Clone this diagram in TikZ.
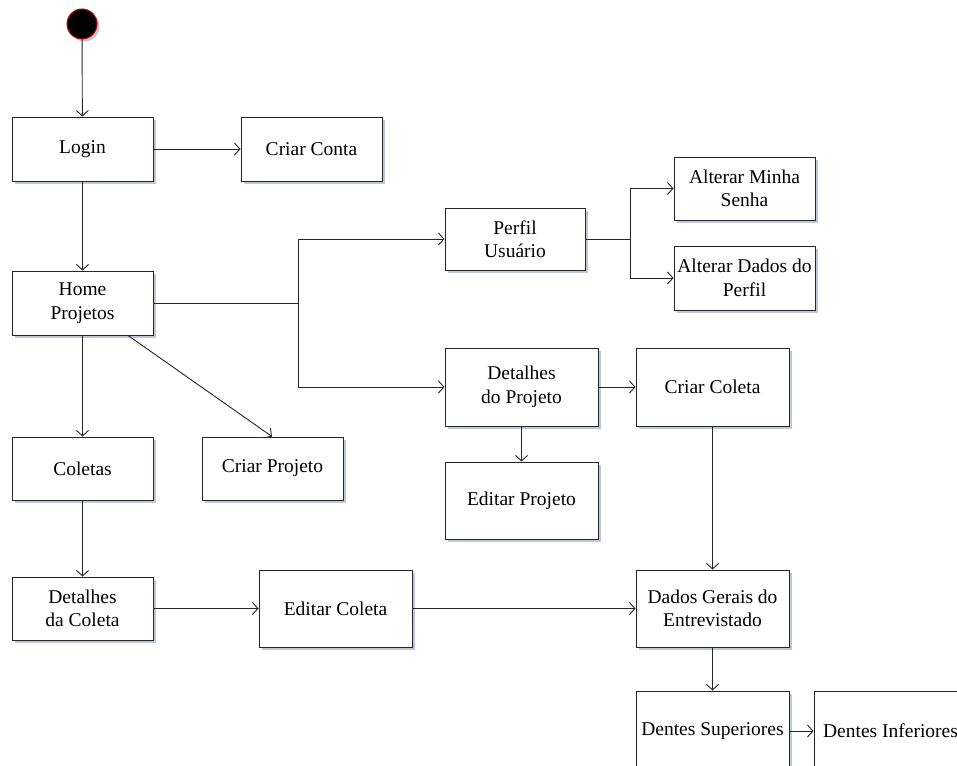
\documentclass[tikz,border=0pt]{standalone}
\usepackage{fontspec}
\setmainfont{Liberation Serif}
\usetikzlibrary{arrows.meta,shadows}
\definecolor{shadowc}{RGB}{150,160,190}
\tikzset{
  box/.style={draw=black!85, line width=0.9pt, fill=white, align=center,
    inner sep=0pt, font=\fontsize{19.5}{23.5}\selectfont,
    drop shadow={shadow xshift=2.5pt, shadow yshift=-2.5pt, fill=shadowc, opacity=0.6}},
  arr/.style={draw=black!85, line width=0.9pt, -{Straight Barb[length=5.5pt,width=12pt]}},
  ln/.style={draw=black!85, line width=0.9pt}
}
\begin{document}
\begin{tikzpicture}[x=1pt,y=-1pt]
\clip (0,0) rectangle (957,765);
\fill[white] (0,0) rectangle (957,765);
% start
\node[circle, fill=black, draw=red!75!black, line width=1pt, minimum size=30pt, inner sep=0pt,
  drop shadow={shadow xshift=2.5pt, shadow yshift=-2.5pt, fill=shadowc, opacity=0.6}] (start) at (82,24) {};
% boxes
\node[box, minimum width=141pt, minimum height=64pt] (login) at (82.5,149) {Login};
\node[box, minimum width=141pt, minimum height=64pt] (criarconta) at (311.5,149) {Criar Conta};
\node[box, minimum width=141pt, minimum height=64pt] (home) at (82.5,303) {Home\\Projetos};
\node[box, minimum width=141pt, minimum height=63pt] (coletas) at (82.5,468.5) {Coletas};
\node[box, minimum width=141pt, minimum height=63pt] (criarproj) at (272.5,468.5) {Criar Projeto};
\node[box, minimum width=141pt, minimum height=63pt] (detcoleta) at (82.5,608.5) {Detalhes\\da Coleta};
\node[box, minimum width=153pt, minimum height=77pt] (editcoleta) at (335.5,608.5) {Editar Coleta};
\node[box, minimum width=140pt, minimum height=62pt] (perfil) at (515,239) {Perfil\\Usuário};
\node[box, minimum width=141pt, minimum height=63pt] (senha) at (744.5,188.5) {Alterar Minha\\Senha};
\node[box, minimum width=141pt, minimum height=64pt] (dados) at (744.5,278) {Alterar Dados do\\Perfil};
\node[box, minimum width=153pt, minimum height=78pt] (detproj) at (521.5,387) {Detalhes\\do Projeto};
\node[box, minimum width=153pt, minimum height=78pt] (criarcoleta) at (712.5,387) {Criar Coleta};
\node[box, minimum width=153pt, minimum height=77pt] (editproj) at (521.5,500.5) {Editar Projeto};
\node[box, minimum width=153pt, minimum height=77pt] (gerais) at (712.5,608.5) {Dados Gerais do\\Entrevistado};
\node[box, minimum width=153pt, minimum height=80pt] (dsup) at (712.5,731) {Dentes Superiores};
\node[box, minimum width=153pt, minimum height=80pt] (dinf) at (890.5,731) {Dentes Inferiores};
% connectors
\draw[arr] (start) -- (login);
\draw[arr] (login) -- (criarconta);
\draw[arr] (login) -- (home);
\draw[arr] (home) -- (coletas);
\draw[arr] ([xshift=45.5pt]home.south) -- ([xshift=-0.5pt]criarproj.north);
\coordinate (j1) at (298,303);
\draw[ln] (home.east) -- (j1);
\draw[arr] (j1) |- (perfil.west);
\draw[arr] (j1) |- (detproj.west);
\coordinate (j2) at (630,239);
\draw[ln] (perfil.east) -- (j2);
\draw[arr] (j2) |- (senha.west);
\draw[arr] (j2) |- (dados.west);
\draw[arr] (detproj) -- (criarcoleta);
\draw[arr] (detproj) -- (editproj);
\draw[arr] (criarcoleta) -- (gerais);
\draw[arr] (coletas) -- (detcoleta);
\draw[arr] (detcoleta) -- (editcoleta);
\draw[arr] (editcoleta) -- (gerais);
\draw[arr] (gerais) -- (dsup);
\draw[arr] (dsup) -- (dinf);
\end{tikzpicture}
\end{document}
